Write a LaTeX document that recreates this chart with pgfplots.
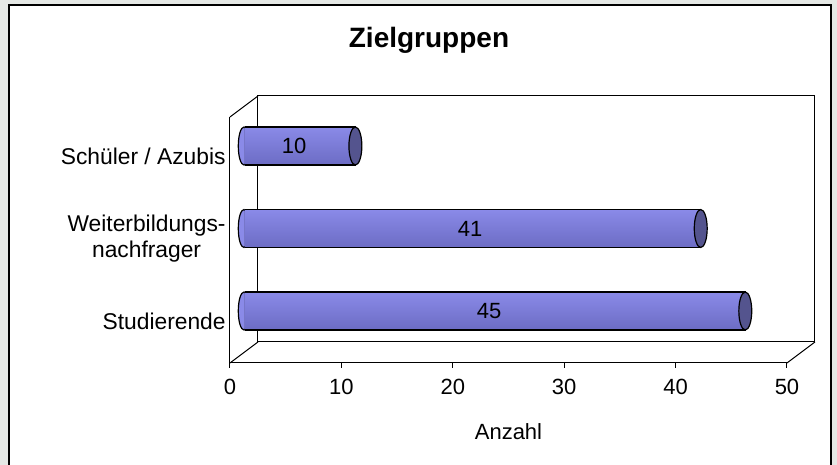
\documentclass[border=0pt]{standalone}
\usepackage{fontspec}
\setmainfont{Liberation Sans}
\usepackage{pgfplots}
\pgfplotsset{compat=1.18}
\pgfplotsset{/pgf/number format/assume math mode=true}
\definecolor{bgout}{RGB}{229,232,229}
\definecolor{bartop}{RGB}{138,138,232}
\definecolor{barmid}{RGB}{152,152,248}
\definecolor{barbot}{RGB}{108,108,196}
\definecolor{capcol}{RGB}{84,84,142}
\pgfplotsset{cyl/.style={xbar, bar width=19pt, bar shift=0pt, draw=black, line width=0.6pt,
    top color=bartop, middle color=barmid, bottom color=barbot}}
\begin{document}
\begin{tikzpicture}
\fill[bgout] (0,0) rectangle (418.5pt,232.5pt);
\fill[white] (4.5pt,-3pt) rectangle (415.5pt,230pt);
\draw[line width=1pt] (4.5pt,-3pt) -- (4.5pt,230pt) -- (415.5pt,230pt) -- (415.5pt,-3pt);
\node[font=\fontsize{14}{17}\selectfont\bfseries] at (214.5pt,212.5pt) {Zielgruppen};
% front plane axis: walls, ticks, labels
\begin{axis}[
  at={(115pt,51pt)}, anchor=south west,
  scale only axis, width=278.5pt, height=123pt,
  xmin=0, xmax=50, ymin=-0.503, ymax=2.479,
  clip=false,
  axis x line*=bottom, axis y line*=left,
  axis line style={-, line width=0.5pt, black},
  xtick={0,10,20,30,40,50},
  ytick={0,1,2},
  yticklabels={Studierende,{Weiterbildungs-\\nachfrager},Schüler / Azubis},
  tick align=outside, major tick length=2.5pt,
  xtick style={line width=0.5pt, black},
  ytick style={draw=none},
  xticklabel style={font=\fontsize{11}{13}\selectfont, inner sep=0pt, anchor=north, yshift=-5.5pt},
  yticklabel style={font=\fontsize{11.4}{13}\selectfont, align=center, inner sep=0pt, anchor=east, xshift=0.5pt},
  xlabel={Anzahl},
  xlabel style={font=\fontsize{11}{13}\selectfont, at={(axis description cs:0.5,0)}, anchor=center, yshift=-34.5pt},
]
\draw[line width=0.5pt] ([shift={(14pt,10.5pt)}]rel axis cs:0,0) rectangle ([shift={(14pt,10.5pt)}]rel axis cs:1,1);
\draw[line width=0.5pt] (rel axis cs:0,1) -- ++(14pt,10.5pt);
\draw[line width=0.5pt] (rel axis cs:0,0) -- ++(14pt,10.5pt);
\draw[line width=0.5pt] (rel axis cs:1,0) -- ++(14pt,10.5pt);
\end{axis}
% mid-depth axis: rear (left) caps of the cylinders
\begin{axis}[
  at={(122pt,56.25pt)}, anchor=south west,
  scale only axis, width=278.5pt, height=123pt,
  xmin=0, xmax=50, ymin=-0.503, ymax=2.479,
  clip=false, axis lines=none,
]
\addplot[only marks, mark=*, mark size=9.5pt,
  mark options={xscale=0.3, fill=bartop, draw=black, line width=0.6pt}]
  coordinates {(0,0) (0,1) (0,2)};
\end{axis}
% mid-depth axis: cylinder bodies (left edge clipped away)
\begin{axis}[
  at={(122.4456pt,56.25pt)}, anchor=south west,
  scale only axis, width=278.0544pt, height=123pt,
  xmin=0.08, xmax=50, ymin=-0.503, ymax=2.479,
  clip=true, axis lines=none,
]
\addplot[cyl] coordinates {(45,0)};
\addplot[cyl] coordinates {(41,1)};
\addplot[cyl] coordinates {(10,2)};
\end{axis}
% mid-depth axis: front caps and value labels
\begin{axis}[
  at={(122pt,56.25pt)}, anchor=south west,
  scale only axis, width=278.5pt, height=123pt,
  xmin=0, xmax=50, ymin=-0.503, ymax=2.479,
  clip=false, axis lines=none,
]
\addplot[only marks, mark=*, mark size=9.5pt,
  mark options={xscale=0.34, fill=capcol, draw=black, line width=0.6pt}]
  coordinates {(45,0) (41,1) (10,2)};
\addplot[draw=none, mark=none, nodes near coords, point meta=explicit,
  every node near coord/.style={anchor=center, font=\fontsize{11}{13}\selectfont, black}]
  coordinates {(22.0,0) [45] (20.3,1) [41] (4.5,2) [10]};
\end{axis}
\pgfresetboundingbox
\useasboundingbox (0,0) rectangle (418.5pt,232.5pt);
\end{tikzpicture}
\end{document}
